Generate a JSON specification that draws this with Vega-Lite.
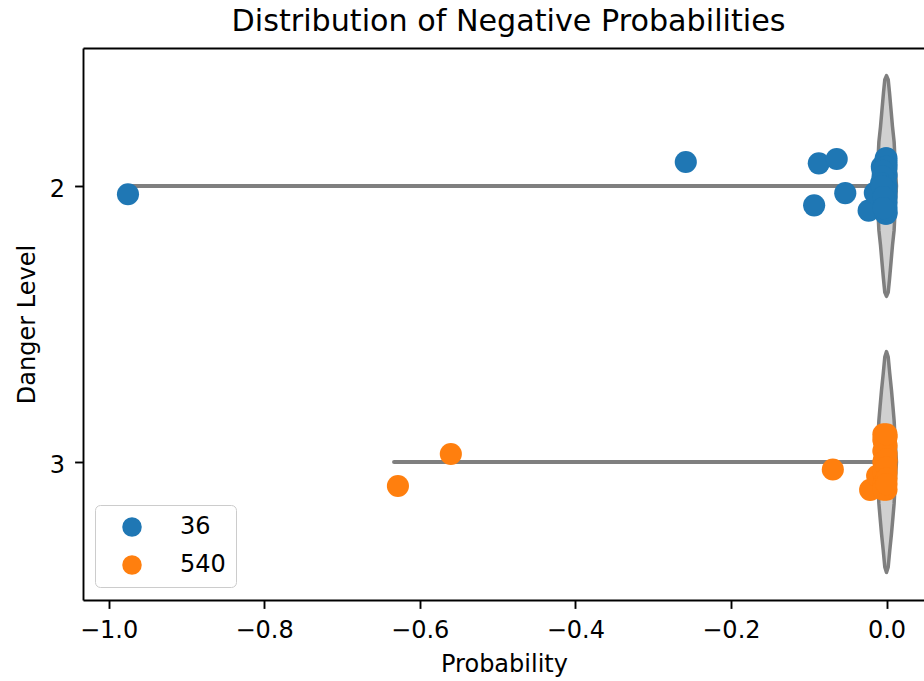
{
  "$schema": "https://vega.github.io/schema/vega-lite/v6.json",
  "width": 841,
  "height": 552,
  "autosize": {"type": "none"},
  "padding": {"left": 83, "top": 48, "right": 0, "bottom": 81},
  "background": "white",
  "config": {
    "font": "DejaVu Sans",
    "view": {"stroke": null},
    "axis": {"grid": false}
  },
  "title": {
    "text": "Distribution of Negative Probabilities",
    "fontSize": 30.2,
    "fontWeight": "normal",
    "color": "black",
    "font": "DejaVu Sans",
    "baseline": "alphabetic",
    "offset": 14,
    "dy": 27,
    "dx": 5
  },
  "datasets": {
    "violin": [
      {"level": 2, "x": -0.0128, "lo": 2.0, "hi": 2.0},
      {"level": 2, "x": -0.0115, "lo": 1.94, "hi": 2.06},
      {"level": 2, "x": -0.0098, "lo": 1.84, "hi": 2.16},
      {"level": 2, "x": -0.0077, "lo": 1.785, "hi": 2.215},
      {"level": 2, "x": -0.006, "lo": 1.73, "hi": 2.27},
      {"level": 2, "x": -0.0039, "lo": 1.663, "hi": 2.337},
      {"level": 2, "x": -0.0022, "lo": 1.615, "hi": 2.385},
      {"level": 2, "x": 0.0, "lo": 1.6, "hi": 2.4},
      {"level": 2, "x": 0.0022, "lo": 1.615, "hi": 2.385},
      {"level": 2, "x": 0.0039, "lo": 1.663, "hi": 2.337},
      {"level": 2, "x": 0.006, "lo": 1.73, "hi": 2.27},
      {"level": 2, "x": 0.0077, "lo": 1.785, "hi": 2.215},
      {"level": 2, "x": 0.0098, "lo": 1.84, "hi": 2.16},
      {"level": 2, "x": 0.0115, "lo": 1.94, "hi": 2.06},
      {"level": 2, "x": 0.0128, "lo": 2.0, "hi": 2.0},
      {"level": 3, "x": -0.0128, "lo": 3.0, "hi": 3.0},
      {"level": 3, "x": -0.0115, "lo": 2.94, "hi": 3.06},
      {"level": 3, "x": -0.0098, "lo": 2.85, "hi": 3.15},
      {"level": 3, "x": -0.0083, "lo": 2.8, "hi": 3.2},
      {"level": 3, "x": -0.0064, "lo": 2.74, "hi": 3.26},
      {"level": 3, "x": -0.0042, "lo": 2.68, "hi": 3.32},
      {"level": 3, "x": -0.0022, "lo": 2.62, "hi": 3.38},
      {"level": 3, "x": 0.0, "lo": 2.6, "hi": 3.4},
      {"level": 3, "x": 0.0022, "lo": 2.62, "hi": 3.38},
      {"level": 3, "x": 0.0042, "lo": 2.68, "hi": 3.32},
      {"level": 3, "x": 0.0064, "lo": 2.74, "hi": 3.26},
      {"level": 3, "x": 0.0083, "lo": 2.8, "hi": 3.2},
      {"level": 3, "x": 0.0098, "lo": 2.85, "hi": 3.15},
      {"level": 3, "x": 0.0115, "lo": 2.94, "hi": 3.06},
      {"level": 3, "x": 0.0128, "lo": 3.0, "hi": 3.0}
    ],
    "whisker": [
      {"level": 2, "xmin": -0.975, "xmax": 0.0},
      {"level": 3, "xmin": -0.633, "xmax": 0.0}
    ],
    "points": [
      {"group": "36", "prob": -0.975, "pos": 2.03},
      {"group": "36", "prob": -0.258, "pos": 1.913},
      {"group": "36", "prob": -0.087, "pos": 1.918},
      {"group": "36", "prob": -0.064, "pos": 1.902},
      {"group": "36", "prob": -0.053, "pos": 2.026},
      {"group": "36", "prob": -0.093, "pos": 2.07},
      {"group": "36", "prob": -0.023, "pos": 2.089},
      {"group": "36", "prob": -0.015, "pos": 2.025},
      {"group": "36", "prob": -0.006, "pos": 1.93},
      {"group": "36", "prob": -0.001, "pos": 1.9},
      {"group": "36", "prob": 0.0, "pos": 1.915},
      {"group": "36", "prob": -0.0005, "pos": 1.94},
      {"group": "36", "prob": 0.0, "pos": 1.96},
      {"group": "36", "prob": -0.001, "pos": 1.98},
      {"group": "36", "prob": 0.0, "pos": 2.0},
      {"group": "36", "prob": -0.002, "pos": 2.01},
      {"group": "36", "prob": 0.0, "pos": 2.04},
      {"group": "36", "prob": -0.001, "pos": 2.06},
      {"group": "36", "prob": 0.0, "pos": 2.08},
      {"group": "36", "prob": -0.0015, "pos": 2.1},
      {"group": "36", "prob": 0.0, "pos": 2.095},
      {"group": "36", "prob": -0.003, "pos": 2.05},
      {"group": "36", "prob": -0.0005, "pos": 1.925},
      {"group": "36", "prob": 0.0, "pos": 1.9},
      {"group": "36", "prob": 0.0, "pos": 1.93},
      {"group": "36", "prob": 0.0, "pos": 2.02},
      {"group": "36", "prob": 0.0, "pos": 2.06},
      {"group": "36", "prob": 0.0, "pos": 2.1},
      {"group": "36", "prob": -0.005, "pos": 1.945},
      {"group": "36", "prob": -0.005, "pos": 1.965},
      {"group": "36", "prob": -0.007, "pos": 1.99},
      {"group": "36", "prob": -0.006, "pos": 2.0},
      {"group": "36", "prob": -0.004, "pos": 2.04},
      {"group": "36", "prob": -0.004, "pos": 2.08},
      {"group": "540", "prob": -0.628, "pos": 3.087},
      {"group": "540", "prob": -0.56, "pos": 2.971},
      {"group": "540", "prob": -0.069, "pos": 3.027},
      {"group": "540", "prob": -0.021, "pos": 3.101},
      {"group": "540", "prob": -0.012, "pos": 3.05},
      {"group": "540", "prob": -0.004, "pos": 2.9},
      {"group": "540", "prob": -0.003, "pos": 2.93},
      {"group": "540", "prob": 0.0, "pos": 2.91},
      {"group": "540", "prob": -0.002, "pos": 2.95},
      {"group": "540", "prob": 0.0, "pos": 2.97},
      {"group": "540", "prob": -0.003, "pos": 2.99},
      {"group": "540", "prob": 0.0, "pos": 3.0},
      {"group": "540", "prob": -0.002, "pos": 3.02},
      {"group": "540", "prob": 0.0, "pos": 3.04},
      {"group": "540", "prob": -0.003, "pos": 3.06},
      {"group": "540", "prob": -0.001, "pos": 3.08},
      {"group": "540", "prob": 0.0, "pos": 3.1},
      {"group": "540", "prob": -0.003, "pos": 3.09},
      {"group": "540", "prob": 0.0, "pos": 2.94},
      {"group": "540", "prob": -0.004, "pos": 2.92},
      {"group": "540", "prob": -0.004, "pos": 2.96},
      {"group": "540", "prob": -0.004, "pos": 3.0},
      {"group": "540", "prob": -0.004, "pos": 3.04},
      {"group": "540", "prob": -0.004, "pos": 3.08},
      {"group": "540", "prob": -0.004, "pos": 3.1},
      {"group": "540", "prob": 0.0, "pos": 2.9},
      {"group": "540", "prob": 0.0, "pos": 2.99},
      {"group": "540", "prob": 0.0, "pos": 3.02},
      {"group": "540", "prob": 0.0, "pos": 3.06},
      {"group": "540", "prob": 0.0, "pos": 3.08}
    ]
  },
  "resolve": {"scale": {"x": "shared", "y": "shared"}, "axis": {"x": "independent", "y": "independent"}},
  "layer": [
    {
      "data": {"name": "violin"},
      "mark": {"type": "area", "orient": "vertical", "fill": "#d0d0d0", "stroke": "#7f7f7f", "strokeWidth": 3.5, "strokeJoin": "round"},
      "encoding": {
        "x": {
          "field": "x", "type": "quantitative",
          "scale": {"domain": [-1.0328, 0.0482], "nice": false, "zero": false},
          "axis": {"orient": "top", "labels": false, "ticks": false, "title": null, "domain": true, "domainColor": "black", "domainWidth": 1.9}
        },
        "y": {
          "field": "lo", "type": "quantitative",
          "scale": {"domain": [1.5, 3.5], "reverse": true, "nice": false, "zero": false},
          "axis": {
            "values": [2, 3], "format": "d",
            "title": "Danger Level",
            "domainColor": "black", "domainWidth": 1.9,
            "tickColor": "black", "tickWidth": 1.9, "tickSize": 8.4,
            "labelFont": "DejaVu Sans", "labelFontSize": 24, "labelColor": "black",
            "labelPadding": 10, "labelOffset": 3,
            "titleFont": "DejaVu Sans", "titleFontSize": 24, "titleFontWeight": "normal", "titleColor": "black",
            "titleBaseline": "alphabetic", "titleX": -49, "titleY": 276, "titleAngle": -90
          }
        },
        "y2": {"field": "hi"},
        "detail": {"field": "level"}
      }
    },
    {
      "data": {"name": "whisker"},
      "mark": {"type": "rule", "color": "#7f7f7f", "strokeWidth": 4, "strokeCap": "round"},
      "encoding": {
        "x": {
          "field": "xmin", "type": "quantitative",
          "axis": {
            "values": [-1, -0.8, -0.6, -0.4, -0.2, 0], "format": ".1f",
            "title": "Probability",
            "domainColor": "black", "domainWidth": 1.9,
            "tickColor": "black", "tickWidth": 1.9, "tickSize": 8.4,
            "labelFont": "DejaVu Sans", "labelFontSize": 24, "labelColor": "black",
            "labelPadding": 10.3,
            "titleFont": "DejaVu Sans", "titleFontSize": 24, "titleFontWeight": "normal", "titleColor": "black",
            "titleBaseline": "alphabetic", "titleX": 421, "titleY": 71.5
          }
        },
        "x2": {"field": "xmax"},
        "y": {"field": "level", "type": "quantitative", "axis": null}
      }
    },
    {
      "data": {"name": "points"},
      "mark": {"type": "circle", "size": 490, "opacity": 1},
      "encoding": {
        "x": {"field": "prob", "type": "quantitative", "axis": null},
        "y": {"field": "pos", "type": "quantitative", "axis": null},
        "color": {
          "field": "group", "type": "nominal",
          "scale": {"domain": ["36", "540"], "range": ["#1f77b4", "#ff7f0e"]},
          "legend": {
            "title": null,
            "orient": "none",
            "legendX": 12,
            "legendY": 457,
            "padding": 10,
            "rowPadding": 14,
            "symbolType": "circle",
            "symbolSize": 380,
            "symbolStrokeWidth": 0,
            "symbolOffset": 15,
            "labelOffset": 36,
            "labelFont": "DejaVu Sans",
            "labelFontSize": 24,
            "labelColor": "black",
            "fillColor": "rgba(255,255,255,0.8)",
            "strokeColor": "#cccccc",
            "cornerRadius": 5
          }
        }
      }
    }
  ]
}
